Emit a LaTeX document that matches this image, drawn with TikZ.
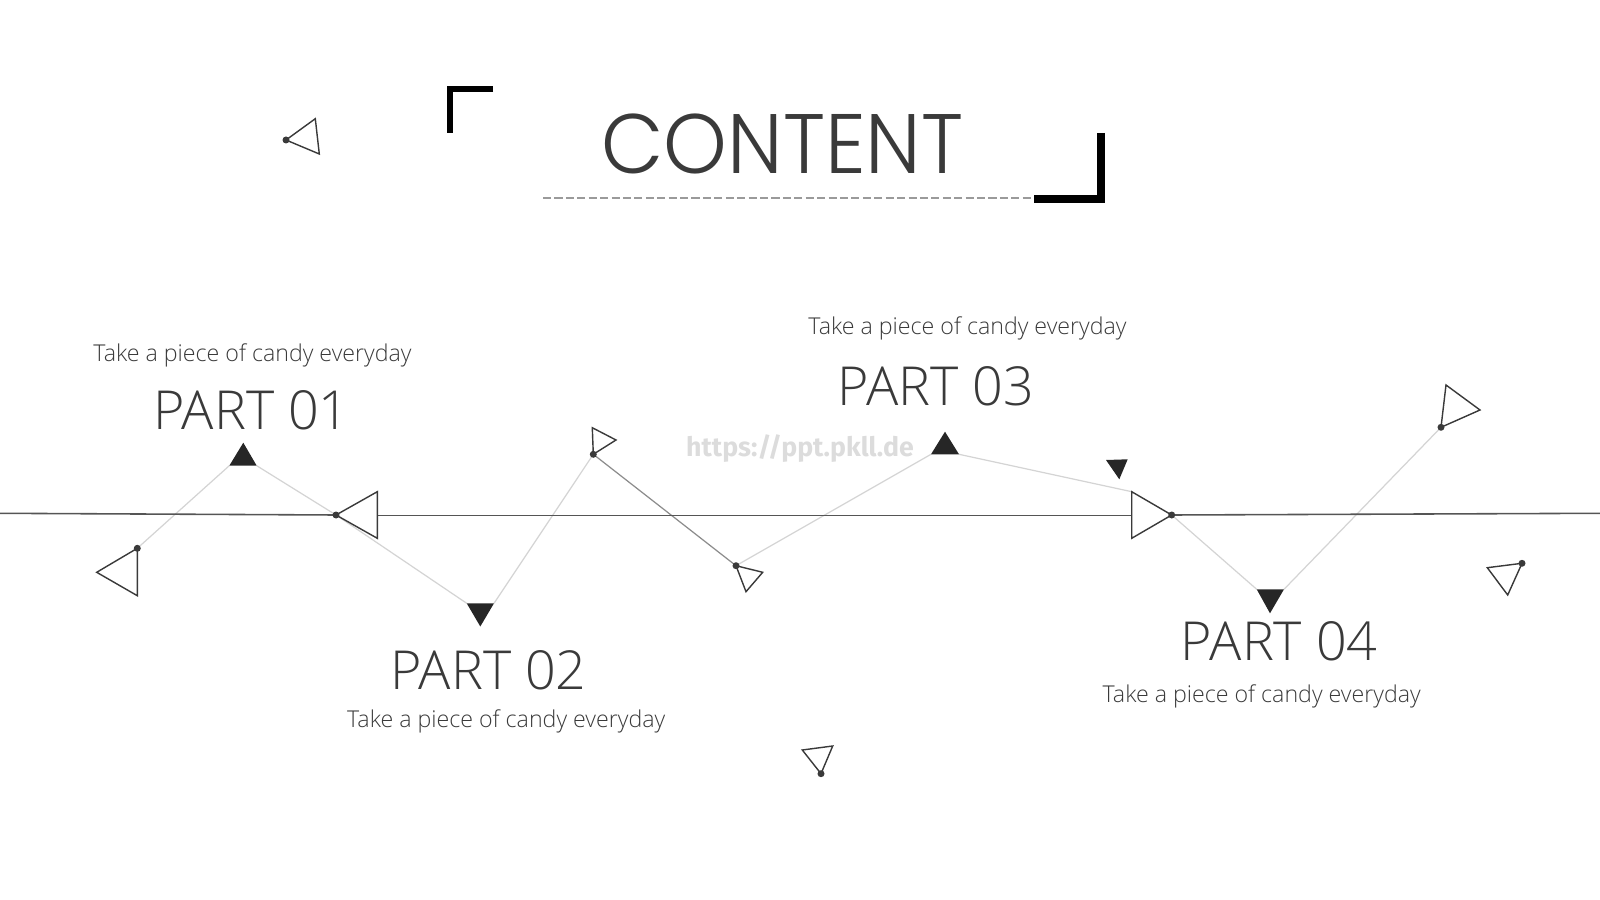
\documentclass[tikz,border=0pt]{standalone}
\usepackage{fontspec}
\setmainfont{Open Sans Light}
\newfontfamily\titlefont{Poppins Light}
\newfontfamily\markfont{Fira Sans}
\definecolor{ink}{HTML}{3A3A3A}
\definecolor{tricol}{HTML}{3A3A3A}
\definecolor{linkcol}{HTML}{D4D4D4}
\definecolor{midlink}{HTML}{8C8C8C}
\definecolor{axiscol}{HTML}{555555}
\definecolor{darktri}{HTML}{262626}
\definecolor{dashcol}{HTML}{9A9A9A}
\definecolor{markcol}{HTML}{DCDCDC}

\begin{document}
\begin{tikzpicture}[x=0.1mm,y=-0.1mm,line join=miter,
  tri/.style={draw=tricol,line width=0.4pt,fill=white},
  link/.style={draw=linkcol,line width=0.35pt},
  axisline/.style={draw=axiscol,line width=0.45pt},
  part/.style={inner sep=0pt,anchor=base,text=ink,font=\fontsize{15.3}{17}\selectfont},
  tag/.style={inner sep=0pt,anchor=base,text=ink,font=\fontsize{6.6}{8}\selectfont}]
\useasboundingbox (0,0) rectangle (1600,900);

\draw[line width=1.7pt] (493,89) -- (450,89) -- (450,133);
\draw[line width=2.35pt] (1101,133) -- (1101,199) -- (1034,199);
\coordinate (dashL) at (543,198);
\coordinate (dashR) at (1034,198);
\draw[dashcol,line width=0.3pt,dash pattern=on 2.3pt off 0.95pt] (dashL) -- (dashR);
\node[inner sep=0pt,anchor=base,text=ink,font=\titlefont\fontsize{24}{28}\selectfont] (title) at (782.5,174) {\scalebox{0.96}[1]{CONTENT}};

\node[inner sep=0pt,anchor=base,text=markcol,font=\markfont\bfseries\fontsize{7.6}{9}\selectfont] (mark) at (800,456.7) {https://ppt.pkll.de};

\coordinate (d1) at (286,140);     \coordinate (d1-b) at (315.3,118.7); \coordinate (d1-c) at (319.3,154);
\coordinate (d2) at (137.3,548.3); \coordinate (d2-b) at (96.7,572.3);  \coordinate (d2-c) at (137.3,595.7);
\coordinate (d3) at (336,515);     \coordinate (d3-b) at (377.3,491.7); \coordinate (d3-c) at (377.3,538.3);
\coordinate (d4) at (593.3,454.3); \coordinate (d4-b) at (592.3,427.7); \coordinate (d4-c) at (616,440);
\coordinate (d5) at (736,565.7);   \coordinate (d5-b) at (762.7,572.3); \coordinate (d5-c) at (746,591.7);
\coordinate (d6) at (821,773.7);   \coordinate (d6-b) at (802.3,750);   \coordinate (d6-c) at (832.7,746);
\coordinate (d7) at (1171.7,515);  \coordinate (d7-b) at (1131.7,491.7); \coordinate (d7-c) at (1131.7,538.3);
\coordinate (d8) at (1441,427.3);  \coordinate (d8-b) at (1446,385);   \coordinate (d8-c) at (1480,410);
\coordinate (d9) at (1522,563.3);  \coordinate (d9-b) at (1487.3,567.7); \coordinate (d9-c) at (1507.7,595);

\coordinate (f1-a) at (243.3,442.7); \coordinate (f1-l) at (229.3,465.7); \coordinate (f1-r) at (256.7,465.7);
\coordinate (f2-a) at (480.3,626.5); \coordinate (f2-l) at (466.7,603.3); \coordinate (f2-r) at (494,603.3);
\coordinate (f3-a) at (945,431.7);   \coordinate (f3-l) at (931,454.3);   \coordinate (f3-r) at (959,454.3);
\coordinate (f4-a) at (1119.3,479.3); \coordinate (f4-l) at (1106,460);   \coordinate (f4-r) at (1127.7,459.3);
\coordinate (f5-a) at (1270,613.3);  \coordinate (f5-l) at (1256.7,589.3); \coordinate (f5-r) at (1284,589.3);

\coordinate (axL) at (0,513.3);
\coordinate (axR) at (1600,513.3);
\coordinate (m3) at (377.3,515.3);
\coordinate (m7) at (1131.7,515.3);

\draw[link] (d2) -- (f1-l);
\draw[link] (f1-r) -- (d3);
\draw[link] (d3) -- (f2-l);
\draw[link] (f2-r) -- (d4);
\draw[link,draw=midlink] (d4) -- (d5);
\draw[link] (d5) -- (f3-l);
\draw[link] (f3-r) -- (d7-b);
\draw[link] (d7) -- (f5-l);
\draw[link] (f5-r) -- (d8);

\draw[axisline] (axL) -- (d3);
\draw[axisline] (m3) -- (m7);
\draw[axisline] (d7) -- (axR);

\foreach \i in {1,...,9}
  \draw[tri] (d\i) -- (d\i-b) -- (d\i-c) -- cycle;
\foreach \i in {1,...,5}
  \fill[darktri] (f\i-a) -- (f\i-l) -- (f\i-r) -- cycle;
\foreach \i in {1,...,9}
  \fill[tricol] (d\i) circle[radius=0.35mm];

\node[tag] (tag1) at (252.5,361.7) {Take a piece of candy everyday};
\node[part] (part1) at (251.3,429.3) {PART 01};
\node[part] (part2) at (488.3,689.3) {PART 02};
\node[tag] (tag2) at (506.2,727.3) {Take a piece of candy everyday};
\node[tag] (tag3) at (967.5,334.3) {Take a piece of candy everyday};
\node[part] (part3) at (935.8,405) {PART 03};
\node[part] (part4) at (1279.2,660) {PART 04};
\node[tag] (tag4) at (1261.7,702.7) {Take a piece of candy everyday};
\end{tikzpicture}
\end{document}
